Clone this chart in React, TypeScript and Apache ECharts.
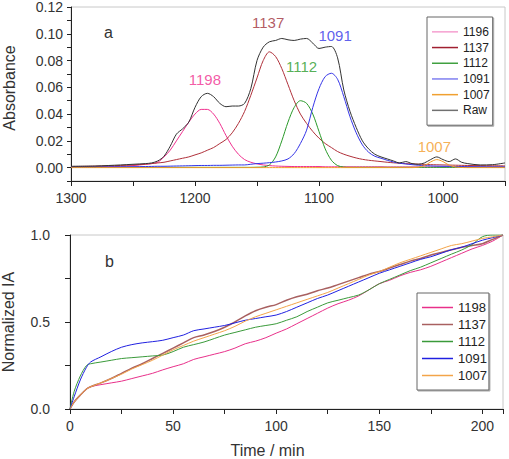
import React, { useEffect, useRef } from "react";
import * as echarts from "echarts";

// ---- Panel a: deconvoluted absorbance spectra ----
const wavenumbers = [
  1300, 1280, 1260, 1250, 1240, 1235, 1230, 1225, 1220, 1215, 1210, 1205, 1200, 1195, 1190,
  1185, 1180, 1175, 1170, 1165, 1160, 1155, 1150, 1145, 1140, 1135, 1130, 1125, 1120, 1115,
  1110, 1105, 1100, 1095, 1090, 1085, 1080, 1075, 1070, 1065, 1060, 1055, 1050, 1045, 1040,
  1035, 1030, 1025, 1020, 1015, 1010, 1005, 1000, 995, 990, 985, 980, 970, 960, 950,
];
const peak1198 = [
  0.0003, 0.0005, 0.001, 0.0015, 0.0025, 0.003, 0.004, 0.008, 0.013, 0.02, 0.027, 0.034, 0.04, 0.0435, 0.0435,
  0.04, 0.033, 0.024, 0.016, 0.01, 0.006, 0.004, 0.0028, 0.002, 0.0015, 0.0012, 0.001, 0.0009, 0.0008, 0.0008,
  0.0008, 0.0008, 0.0008, 0.0006, 0.0006, 0.0006, 0.0006, 0.0006, 0.0006, 0.0006, 0.0006, 0.0006, 0.0006, 0.0005, 0.0005,
  0.0005, 0.0005, 0.0005, 0.0005, 0.0005, 0.0005, 0.0005, 0.0005, 0.0005, 0.0005, 0.0005, 0.0005, 0.0005, 0.0005, 0.0005,
];
const peak1137 = [
  0.0008, 0.0011, 0.0016, 0.002, 0.0026, 0.003, 0.0035, 0.004, 0.005, 0.006, 0.007, 0.008, 0.0095, 0.011, 0.013,
  0.015, 0.018, 0.021, 0.026, 0.033, 0.042, 0.054, 0.067, 0.08, 0.0865, 0.083, 0.074, 0.062, 0.05, 0.04,
  0.033, 0.027, 0.022, 0.018, 0.015, 0.012, 0.01, 0.0085, 0.0072, 0.0062, 0.0055, 0.005, 0.0045, 0.004, 0.0036,
  0.0033, 0.003, 0.0028, 0.0026, 0.0024, 0.0022, 0.0021, 0.002, 0.0019, 0.0018, 0.0017, 0.0016, 0.0015, 0.0014, 0.0013,
];
const peak1112 = [
  0.0002, 0.0002, 0.0002, 0.0002, 0.0002, 0.0002, 0.0002, 0.0002, 0.0002, 0.0002, 0.0002, 0.0002, 0.0002, 0.0002, 0.0002,
  0.0002, 0.0002, 0.0002, 0.0002, 0.0002, 0.0002, 0.0002, 0.0003, 0.0005, 0.002, 0.008, 0.02, 0.034, 0.045, 0.05,
  0.048, 0.04, 0.027, 0.014, 0.0055, 0.0015, 0.0004, 0.0002, 0.0002, 0.0002, 0.0002, 0.0002, 0.0002, 0.0002, 0.0002,
  0.0002, 0.0002, 0.0002, 0.0002, 0.0002, 0.0002, 0.0002, 0.0002, 0.0002, 0.0002, 0.0002, 0.0002, 0.0002, 0.0002, 0.0002,
];
const peak1091 = [
  0.0003, 0.0004, 0.0006, 0.0007, 0.0008, 0.0009, 0.001, 0.001, 0.0011, 0.0012, 0.0013, 0.0014, 0.0015, 0.0016, 0.0016,
  0.0017, 0.0017, 0.0018, 0.0019, 0.002, 0.002, 0.0025, 0.003, 0.0033, 0.0037, 0.0042, 0.005, 0.0065, 0.0105, 0.018,
  0.028, 0.045, 0.059, 0.068, 0.0705, 0.066, 0.053, 0.038, 0.026, 0.017, 0.0115, 0.0085, 0.007, 0.0055, 0.0042,
  0.0033, 0.0027, 0.0022, 0.0018, 0.0015, 0.0013, 0.0011, 0.001, 0.0009, 0.0008, 0.0008, 0.0007, 0.0006, 0.0005, 0.0005,
];
const peak1007 = [
  0, 0, 0, 0, 0, 0, 0, 0, 0, 0, 0, 0, 0, 0, 0,
  0, 0, 0, 0, 0, 0, 0, 0, 0, 0, 0, 0, 0, 0, 0,
  0, 0, 0, 0, 0, 0, 0, 0, 0, 0, 0, 0, 0, 0, 0,
  0, 0, 0, 0.0003, 0.0015, 0.0042, 0.006, 0.0045, 0.0018, 0.0005, 0.0001, 0, 0, 0, 0,
];
const rawSpectrum = [
  0.001, 0.0012, 0.002, 0.0025, 0.003, 0.0035, 0.005, 0.0085, 0.016, 0.025, 0.029, 0.034, 0.045, 0.053, 0.0555,
  0.053, 0.048, 0.0455, 0.046, 0.046, 0.048, 0.059, 0.08, 0.09, 0.094, 0.095, 0.0965, 0.0955, 0.095, 0.096,
  0.0965, 0.093, 0.089, 0.09, 0.0905, 0.082, 0.058, 0.042, 0.03, 0.02, 0.014, 0.01, 0.008, 0.0065, 0.005,
  0.0035, 0.0045, 0.003, 0.0025, 0.0035, 0.006, 0.008, 0.006, 0.0045, 0.0065, 0.004, 0.003, 0.002, 0.0022, 0.0035,
];

// ---- Panel b: normalized integrated absorbance vs time ----
const times = [
  0, 2, 5, 8, 10, 15, 20, 25, 30, 35, 40, 45, 50, 55, 60, 65, 70, 75, 80, 85, 90, 95,
  100, 105, 110, 115, 120, 125, 130, 135, 140, 145, 150, 155, 160, 165, 170, 175, 180, 185, 190, 195, 200, 205, 210,
];
const ia1198 = [
  0, 0.04, 0.08, 0.115, 0.128, 0.14, 0.15, 0.16, 0.175, 0.19, 0.205, 0.225, 0.243, 0.26, 0.285, 0.3, 0.315, 0.33, 0.35, 0.375, 0.39, 0.41,
  0.436, 0.46, 0.49, 0.52, 0.55, 0.58, 0.605, 0.625, 0.65, 0.685, 0.72, 0.74, 0.765, 0.785, 0.8, 0.82, 0.845, 0.87, 0.895, 0.92, 0.94, 0.965, 1.0,
];
const ia1137 = [
  0, 0.04, 0.08, 0.115, 0.128, 0.15, 0.175, 0.205, 0.235, 0.26, 0.29, 0.32, 0.35, 0.38, 0.41, 0.425, 0.445, 0.47, 0.5, 0.535, 0.565, 0.585,
  0.6, 0.625, 0.645, 0.66, 0.68, 0.695, 0.715, 0.735, 0.755, 0.775, 0.79, 0.81, 0.83, 0.85, 0.865, 0.885, 0.9, 0.915, 0.93, 0.94, 0.95, 0.975, 1.0,
];
const ia1112 = [
  0, 0.1, 0.19, 0.25, 0.26, 0.27, 0.28, 0.29, 0.295, 0.3, 0.305, 0.31, 0.33, 0.355, 0.37, 0.385, 0.405, 0.425, 0.44, 0.455, 0.47, 0.48,
  0.49, 0.51, 0.53, 0.56, 0.585, 0.61, 0.625, 0.64, 0.655, 0.685, 0.72, 0.745, 0.77, 0.795, 0.815, 0.84, 0.865, 0.89, 0.914, 0.945, 0.99, 1.0, 1.0,
];
const ia1091 = [
  0, 0.07, 0.167, 0.24, 0.27, 0.3, 0.33, 0.355, 0.37, 0.38, 0.387, 0.395, 0.41, 0.425, 0.45, 0.46, 0.47, 0.48, 0.495, 0.51, 0.52, 0.53,
  0.54, 0.56, 0.585, 0.61, 0.635, 0.655, 0.68, 0.705, 0.73, 0.755, 0.78, 0.8, 0.82, 0.84, 0.86, 0.875, 0.895, 0.915, 0.93, 0.95, 0.97, 0.985, 1.0,
];
const ia1007 = [
  0, 0.04, 0.08, 0.115, 0.128, 0.15, 0.175, 0.2, 0.23, 0.255, 0.28, 0.31, 0.34, 0.365, 0.39, 0.41, 0.43, 0.45, 0.475, 0.505, 0.53, 0.55,
  0.57, 0.59, 0.61, 0.63, 0.65, 0.67, 0.695, 0.72, 0.745, 0.77, 0.79, 0.815, 0.84, 0.86, 0.88, 0.9, 0.92, 0.94, 0.95, 0.965, 0.98, 0.99, 1.0,
];

const topLegendNames = ["1196", "1137", "1112", "1091", "1007", "Raw"];
const bottomLegendNames = ["1198", "1137", "1112", "1091", "1007"];
const peakLabels = ["1198", "1137", "1112", "1091", "1007"];
const peakLabelX = [1192, 1141, 1114, 1087, 1007];
const peakLabelY = [0.0655, 0.1085, 0.0755, 0.0985, 0.0155];

const FONT = "'Liberation Sans', Arial, sans-serif";

const zip = (xs: number[], ys: number[]) => xs.map((x, i) => [x, ys[i]]);

export default function App() {
  const ref = useRef<HTMLDivElement>(null);
  useEffect(() => {
    document.body.style.margin = "0";
    if (!ref.current) return;
    const chart = echarts.init(ref.current, undefined, { renderer: "svg" });

    const topColors = ["#f0308f", "#b0303a", "#2a9a2a", "#3535e8", "#f39c2a", "#333333"];
    const topLegendColors = ["#f5a0d0", "#a02030", "#40a040", "#8080f0", "#f0a030", "#707070"];
    const topData = [peak1198, peak1137, peak1112, peak1091, peak1007, rawSpectrum];
    const botColors = ["#e8308a", "#a86060", "#3a9a3a", "#2020e0", "#f3a449"];
    const botData = [ia1198, ia1137, ia1112, ia1091, ia1007];

    const axisLine = { lineStyle: { color: "#222", width: 1 } };
    const labelStyle = { color: "#333", fontSize: 14, fontFamily: FONT };

    const series: any[] = [];
    topData.forEach((d, i) => {
      series.push({
        type: "line",
        name: "a" + topLegendNames[i],
        xAxisIndex: 0,
        yAxisIndex: 0,
        data: zip(wavenumbers, d),
        symbol: "none",
        smooth: 0.3,
        z: i === 5 ? 3 : 2,
        color: topLegendColors[i],
        lineStyle: { color: topColors[i], width: 1 },
      });
    });
    botData.forEach((d, i) => {
      series.push({
        type: "line",
        name: "b" + bottomLegendNames[i],
        xAxisIndex: 1,
        yAxisIndex: 1,
        data: zip(times, d),
        symbol: "none",
        smooth: 0.3,
        color: botColors[i],
        lineStyle: { color: botColors[i], width: i === 1 ? 1.5 : 1 },
      });
    });

    const annColors = ["#f0308f", "#a0303a", "#2a9a2a", "#3535e8", "#f39c2a"];
    series.push({
      type: "scatter",
      xAxisIndex: 0,
      yAxisIndex: 0,
      symbolSize: 0,
      silent: true,
      data: peakLabels.map((t, i) => ({
        value: [peakLabelX[i], peakLabelY[i]],
        label: {
          show: true,
          position: "inside",
          formatter: t,
          color: annColors[i],
          fontSize: 15,
          fontFamily: FONT,
        },
      })),
    });

    const legendBase = {
      orient: "vertical",
      backgroundColor: "#fff",
      borderColor: "#666",
      borderWidth: 1,
      shadowColor: "rgba(0,0,0,0.35)",
      shadowOffsetX: 1,
      shadowOffsetY: 1,
      shadowBlur: 1,
      itemGap: 0,
      icon: "rect",
      formatter: (n: string) => n.slice(1),
      selectedMode: false,
    };

    chart.setOption({
      animation: false,
      backgroundColor: "#fff",
      grid: [
        { left: 71, top: 7, right: 4, bottom: 278, show: true, borderColor: "#c8c8c8", borderWidth: 1, outerBoundsMode: "none", containLabel: false },
        { left: 70, top: 235, right: 6, bottom: 50, show: true, borderColor: "#c8c8c8", borderWidth: 1, outerBoundsMode: "none", containLabel: false },
      ],
      xAxis: [
        {
          type: "value",
          gridIndex: 0,
          min: 950,
          max: 1300,
          interval: 50,
          inverse: true,
          axisLine: { ...axisLine, onZero: false },
          axisTick: { length: 5, lineStyle: { color: "#222" } },
          axisLabel: {
            ...labelStyle,
            margin: 10,
            formatter: (v: number) => (v % 100 === 0 ? String(v) : ""),
          },
          splitLine: { show: false },
        },
        {
          type: "value",
          gridIndex: 1,
          min: 0,
          max: 210,
          interval: 25,
          name: "Time / min",
          nameLocation: "middle",
          nameGap: 33,
          nameTextStyle: { color: "#333", fontSize: 16, fontFamily: FONT, padding: [0, 38, 0, 0] },
          axisLine: { ...axisLine, onZero: false },
          axisTick: { length: 5, lineStyle: { color: "#222" } },
          axisLabel: {
            ...labelStyle,
            margin: 10,
            formatter: (v: number) => (v % 50 === 0 ? String(v) : ""),
          },
          splitLine: { show: false },
        },
      ],
      yAxis: [
        {
          type: "value",
          gridIndex: 0,
          min: -0.01,
          max: 0.12,
          interval: 0.01,
          name: "Absorbance",
          nameLocation: "middle",
          nameGap: 54,
          nameTextStyle: { color: "#333", fontSize: 16, fontFamily: FONT, padding: [0, 0, 0, 12] },
          axisLine: { ...axisLine, onZero: false },
          axisTick: { length: 4, lineStyle: { color: "#222" } },
          axisLabel: {
            ...labelStyle,
            margin: 8,
            formatter: (v: number) => {
              const k = Math.round(v * 100);
              return k >= 0 && k % 2 === 0 ? v.toFixed(2) : "";
            },
          },
          splitLine: { show: false },
        },
        {
          type: "value",
          gridIndex: 1,
          min: 0,
          max: 1,
          interval: 0.25,
          name: "Normalized IA",
          nameLocation: "middle",
          nameGap: 54,
          nameTextStyle: { color: "#333", fontSize: 16, fontFamily: FONT },
          axisLine: { ...axisLine, onZero: false },
          axisTick: { length: 5, lineStyle: { color: "#222" } },
          axisLabel: {
            ...labelStyle,
            margin: 20,
            formatter: (v: number) => {
              const k = Math.round(v * 100);
              return k % 50 === 0 ? v.toFixed(1) : "";
            },
          },
          splitLine: { show: false },
        },
      ],
      legend: [
        {
          ...legendBase,
          left: 427,
          top: 17,
          padding: [7, 3, 7, 5],
          itemWidth: 26,
          itemHeight: 1.5,
          data: topLegendNames.map((n) => "a" + n),
          textStyle: { color: "#222", fontSize: 12, fontFamily: FONT, lineHeight: 15.7 },
        },
        {
          ...legendBase,
          left: 417,
          top: 293,
          padding: [6, 2, 6, 5],
          itemWidth: 31,
          itemHeight: 1.5,
          data: bottomLegendNames.map((n) => "b" + n),
          textStyle: { color: "#222", fontSize: 13, fontFamily: FONT, lineHeight: 17 },
        },
      ],
      graphic: [
        { type: "text", left: 104, top: 24, style: { text: "a", fontSize: 16, fontFamily: FONT, fill: "#333" } },
        { type: "text", left: 105, top: 253, style: { text: "b", fontSize: 16, fontFamily: FONT, fill: "#333" } },
      ],
      series,
    });
    return () => chart.dispose();
  }, []);
  return <div ref={ref} style={{ width: 509, height: 459 }} />;
}
